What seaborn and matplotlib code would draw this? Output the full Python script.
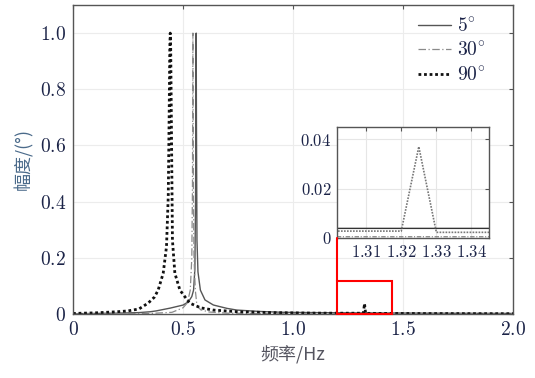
import matplotlib
matplotlib.use("Agg")
import matplotlib.pyplot as plt
import seaborn as sns
import numpy as np
import pandas as pd
from matplotlib.patches import Rectangle, ConnectionPatch

# ---- data ----
f_5 = [0, 0.1, 0.2, 0.3, 0.351, 0.378, 0.442, 0.501, 0.525, 0.540, 0.548, 0.554, 0.557,
       0.559, 0.560, 0.561, 0.5635, 0.568, 0.579, 0.6, 0.638, 0.7, 0.745, 0.85, 0.957,
       1.1, 1.3, 1.345, 1.6, 2.0]
a_5 = [0.001, 0.002, 0.003, 0.005, 0.008, 0.011, 0.021, 0.032, 0.044, 0.062, 0.085, 0.16, 0.4,
       0.8, 1.0, 0.7, 0.263, 0.15, 0.085, 0.05, 0.032, 0.02, 0.014, 0.009, 0.006,
       0.005, 0.0039, 0.0039, 0.003, 0.002]

f_30 = [0, 0.2, 0.35, 0.45, 0.5, 0.52, 0.533, 0.540, 0.543, 0.545, 0.547, 0.550, 0.556,
        0.563, 0.58, 0.62, 0.7, 1.0, 1.3, 1.345, 2.0]
a_30 = [0.0005, 0.001, 0.002, 0.006, 0.022, 0.04, 0.085, 0.2, 0.45, 1.0, 0.45, 0.2, 0.085,
        0.032, 0.015, 0.007, 0.003, 0.001, 0.0005, 0.0005, 0.0003]

f_90 = [0, 0.1, 0.2, 0.25, 0.3, 0.342, 0.37, 0.387, 0.41, 0.425, 0.433, 0.437, 0.440, 0.442,
        0.444, 0.447, 0.452, 0.463, 0.486, 0.53, 0.58, 0.638, 0.75, 0.9, 1.1, 1.3, 1.32,
        1.325, 1.33, 1.345, 1.6, 2.0]
a_90 = [0.002, 0.004, 0.008, 0.011, 0.018, 0.039, 0.06, 0.085, 0.145, 0.24, 0.42, 0.7, 0.95, 1.0,
        0.95, 0.7, 0.263, 0.145, 0.085, 0.039, 0.022, 0.014, 0.008, 0.005, 0.003, 0.0028, 0.0028,
        0.037, 0.0023, 0.0023, 0.0015, 0.001]

labels = ["5", "30", "90"]  # degrees
x_ticks = [0, 0.5, 1.0, 1.5, 2.0]
x_ticklabels = ["0", "0.5", "1.0", "1.5", "2.0"]
y_ticks = [0, 0.2, 0.4, 0.6, 0.8, 1.0]
y_ticklabels = ["0", "0.2", "0.4", "0.6", "0.8", "1.0"]
ix_ticks = [1.31, 1.32, 1.33, 1.34]
ix_ticklabels = ["1.31", "1.32", "1.33", "1.34"]
iy_ticks = [0, 0.02, 0.04]
iy_ticklabels = ["0", "0.02", "0.04"]

sns.set_style("white")
plt.rcParams["mathtext.fontset"] = "cm"
plt.rcParams["font.family"] = ["DejaVu Serif"]

fig = plt.figure(figsize=(5.35, 3.78), dpi=100)
ax = fig.add_axes([73/535, 1-314/378, (513-73)/535, (314-5)/378])

tick_col = "#1c2448"
spine_col = "#555555"

styles = [
    dict(color="#555555", lw=1.0, linestyle="-"),
    dict(color="#8a8a8a", lw=0.9, linestyle=(0, (6, 2, 1, 2))),
    dict(color="#111111", lw=2.0, linestyle=(0, (1, 1))),
]
series = [(f_5, a_5), (f_30, a_30), (f_90, a_90)]

for (f, a), lab, st in zip(series, labels, styles):
    sns.lineplot(x=f, y=a, ax=ax, estimator=None, sort=False,
                 label="$" + lab + "^{\\!\\circ}$", **st)

ax.set_xlim(0, 2.0)
ax.set_ylim(0, 1.1)
ax.set_xticks(x_ticks)
ax.set_xticklabels(["$" + t + "$" for t in x_ticklabels])
ax.set_yticks(y_ticks)
ax.set_yticklabels(["$" + t + "$" for t in y_ticklabels])
ax.grid(True, color="#ececec", lw=0.8)
ax.tick_params(direction="in", length=3, width=0.8, colors=spine_col,
               labelcolor=tick_col, labelsize=14, top=True, right=True, pad=5)
for s in ax.spines.values():
    s.set_color(spine_col)
    s.set_linewidth(1.0)

ax.set_xlabel("频率/Hz", family=["Noto Sans CJK SC", "DejaVu Sans"], fontsize=13,
              color="#555560", labelpad=5)
ax.set_ylabel("幅度/(°)", family=["Noto Sans CJK SC", "DejaVu Sans"], fontsize=13,
              color="#4a6a8a", labelpad=5)

leg = ax.legend(loc="upper right", bbox_to_anchor=(0.955, 0.985), frameon=False, fontsize=14,
                handlelength=1.7, labelspacing=0.3, borderaxespad=0.0, handletextpad=0.3)
for t in leg.get_texts():
    t.set_color(tick_col)

# red zoom rectangle
ax.add_patch(Rectangle((1.2, 0), 0.25, 0.117, fill=False, edgecolor="red", lw=1.5, zorder=5,
                       clip_on=False))

# inset
axi = fig.add_axes([337/535, 1-238/378, (489-337)/535, (238-127)/378])
inset_styles = [
    dict(color="#333333", lw=1.0, linestyle="-"),
    dict(color="#777777", lw=0.8, linestyle=(0, (4, 1.5, 1, 1.5))),
    dict(color="#777777", lw=1.2, linestyle=(0, (1, 0.8))),
]
for (f, a), st in zip(series, inset_styles):
    sns.lineplot(x=f, y=a, ax=axi, estimator=None, sort=False, legend=False, **st)
axi.set_xlim(1.3017, 1.345)
axi.set_ylim(0, 0.045)
axi.set_xticks(ix_ticks)
axi.set_xticklabels(["$" + t + "$" for t in ix_ticklabels])
axi.set_yticks(iy_ticks)
axi.set_yticklabels(["$" + t + "$" for t in iy_ticklabels])
axi.grid(True, color="#e6e6e6", lw=0.8)
axi.tick_params(direction="in", length=3, width=0.8, colors=spine_col,
                labelcolor=tick_col, labelsize=12, top=True, right=True, pad=4)
axi.set_xlabel("")
axi.set_ylabel("")
for s in axi.spines.values():
    s.set_color(spine_col)
    s.set_linewidth(1.0)

con = ConnectionPatch(xyA=(0, 0), coordsA=axi.transAxes, xyB=(1.2, 0.117), coordsB=ax.transData,
                      color="red", lw=1.5)
fig.add_artist(con)

fig.savefig("out.png", dpi=100)
